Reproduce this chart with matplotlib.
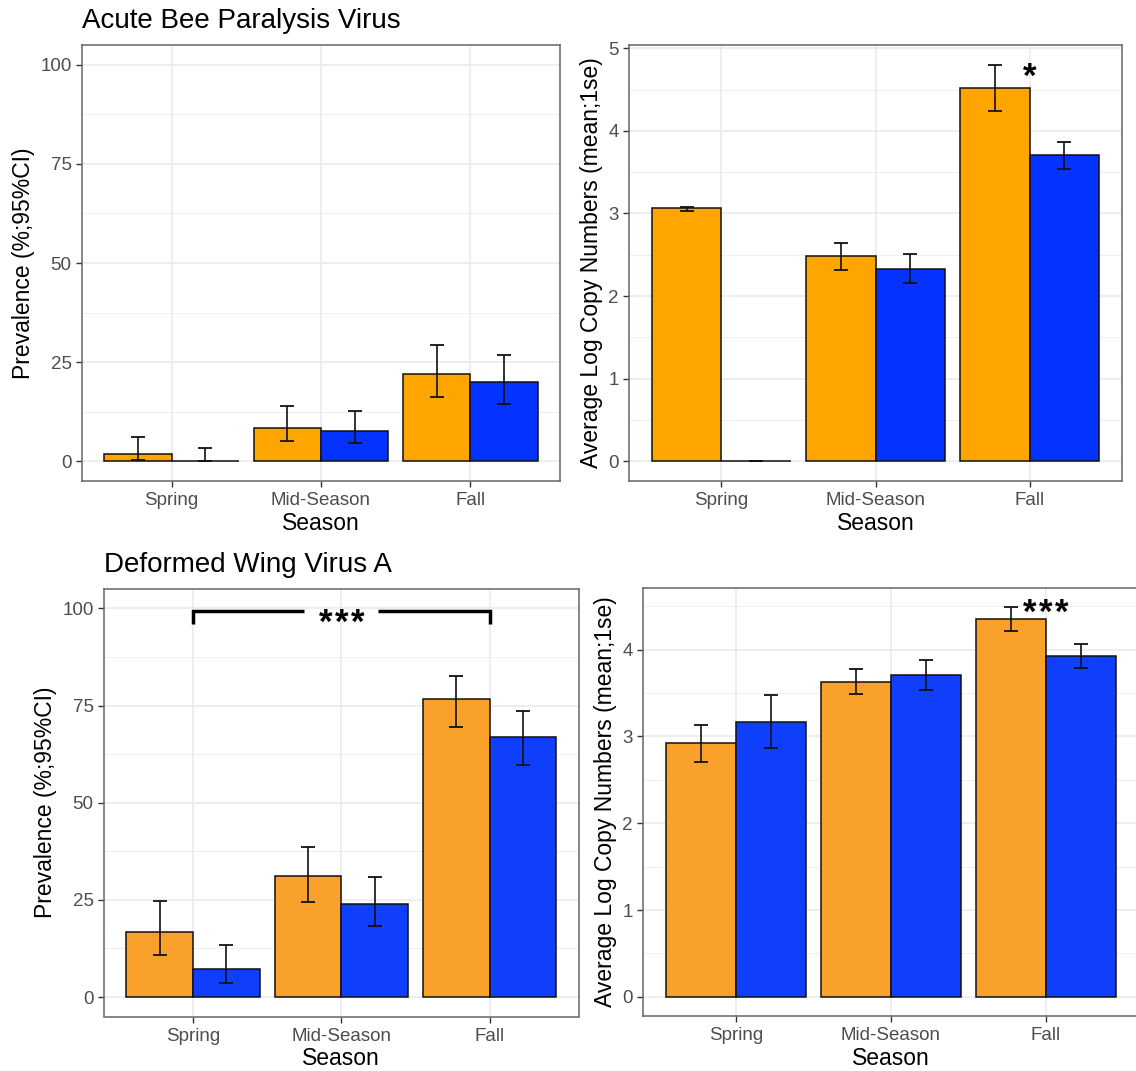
import numpy as np
import matplotlib
matplotlib.use("Agg")
import matplotlib.pyplot as plt

plt.rcParams['font.family'] = ['Liberation Sans', 'DejaVu Sans']

seasons = ['Spring', 'Mid-Season', 'Fall']

# Acute Bee Paralysis Virus - prevalence (%, 95% CI)
abpv_prev_1 = [1.8, 8.4, 22.0]
abpv_prev_1_lo = [0.4, 5.0, 16.2]
abpv_prev_1_hi = [6.2, 13.8, 29.2]
abpv_prev_2 = [0.0, 7.7, 19.9]
abpv_prev_2_lo = [0.0, 4.5, 14.5]
abpv_prev_2_hi = [3.2, 12.7, 26.7]

# Acute Bee Paralysis Virus - log copy numbers (mean, 1 se)
abpv_copy_1 = [3.06, 2.48, 4.52]
abpv_copy_1_lo = [3.03, 2.32, 4.24]
abpv_copy_1_hi = [3.08, 2.64, 4.80]
abpv_copy_2 = [0.0, 2.33, 3.71]
abpv_copy_2_lo = [0.0, 2.16, 3.54]
abpv_copy_2_hi = [0.0, 2.51, 3.87]

# Deformed Wing Virus A - prevalence
dwv_prev_1 = [16.7, 31.1, 76.7]
dwv_prev_1_lo = [10.9, 24.5, 69.4]
dwv_prev_1_hi = [24.6, 38.6, 82.6]
dwv_prev_2 = [7.1, 24.0, 66.9]
dwv_prev_2_lo = [3.7, 18.2, 59.6]
dwv_prev_2_hi = [13.4, 31.0, 73.5]

# Deformed Wing Virus A - log copy numbers
dwv_copy_1 = [2.92, 3.63, 4.35]
dwv_copy_1_lo = [2.71, 3.49, 4.22]
dwv_copy_1_hi = [3.13, 3.78, 4.49]
dwv_copy_2 = [3.17, 3.71, 3.93]
dwv_copy_2_lo = [2.87, 3.54, 3.79]
dwv_copy_2_hi = [3.48, 3.88, 4.06]

W, H = 1136, 1071
fig = plt.figure(figsize=(W / 100, H / 100), dpi=100)
fig.patch.set_facecolor('white')


def make_ax(left, right, top, bottom):
    return fig.add_axes([left / W, 1 - bottom / H, (right - left) / W, (bottom - top) / H])


def draw_panel(ax, g1, g2, colors, ylim, yticks, ylabel):
    x = np.arange(len(seasons))
    ax.set_xlim(-0.6, 2.6)
    ax.set_ylim(*ylim)
    ax.set_axisbelow(True)
    minor = [(a + b) / 2 for a, b in zip(yticks[:-1], yticks[1:])]
    minor += [yticks[-1] + (yticks[1] - yticks[0]) / 2]
    minor = [m for m in minor if ylim[0] < m < ylim[1]]
    for m in minor:
        ax.axhline(m, color='#EFEFEF', lw=0.7, zorder=0)
    for t in yticks:
        ax.axhline(t, color='#EBEBEB', lw=1.2, zorder=0)
    for xi in x:
        ax.axvline(xi, color='#EBEBEB', lw=1.2, zorder=0)

    for (vals, lo, hi), off, c in zip([g1, g2], [-0.225, 0.225], colors):
        vals = np.array(vals)
        ax.bar(x + off, vals, width=0.45, color=c, edgecolor='#111111', linewidth=1.1, zorder=2)
        yerr = [vals - np.array(lo), np.array(hi) - vals]
        ax.errorbar(x + off, vals, yerr=yerr, fmt='none', ecolor='#111111',
                    elinewidth=1.2, capsize=5.3, capthick=1.3, zorder=3)

    ax.set_xticks(x)
    ax.set_xticklabels(seasons)
    ax.set_yticks(yticks)
    ax.set_yticklabels([f'{t:g}' for t in yticks])
    ax.tick_params(axis='both', length=4, width=1.0, color='#333333',
                   labelcolor='#4D4D4D', labelsize=13.5)
    ax.tick_params(axis='x', pad=4)
    ax.tick_params(axis='y', pad=3.5)
    for s in ax.spines.values():
        s.set_color('#666666')
        s.set_linewidth(1.1)
        s.set_zorder(4)
    ax.set_xlabel('Season', fontsize=16.5, labelpad=2)
    ax.set_ylabel(ylabel, fontsize=16.5, labelpad=4)


def stars(ax, n, x, y):
    # n bold asterisks centred on (x, y), spaced by a fixed step in points
    step = 11.5
    for i in range(n):
        dx = (i - (n - 1) / 2) * step
        ax.annotate('*', xy=(x, y), xytext=(dx, -14.5), textcoords='offset points',
                    ha='center', va='baseline', fontsize=25, fontweight='bold', zorder=5)


def title(ax, text):
    ax.annotate(text, xy=(0, 1), xycoords='axes fraction', xytext=(0, 12.2),
                textcoords='offset points', ha='left', va='baseline', fontsize=20)


top_cols = ['#FFA500', '#0433FF']
bot_cols = ['#F9A12B', '#103FFB']
prev_label = 'Prevalence (%;95%CI)'
copy_label = 'Average Log Copy Numbers (mean;1se)'

ax1 = make_ax(82, 560, 45, 481)
draw_panel(ax1, (abpv_prev_1, abpv_prev_1_lo, abpv_prev_1_hi),
           (abpv_prev_2, abpv_prev_2_lo, abpv_prev_2_hi),
           top_cols, (-5, 105), [0, 25, 50, 75, 100], prev_label)
title(ax1, 'Acute Bee Paralysis Virus')

ax2 = make_ax(629, 1122, 45, 481)
draw_panel(ax2, (abpv_copy_1, abpv_copy_1_lo, abpv_copy_1_hi),
           (abpv_copy_2, abpv_copy_2_lo, abpv_copy_2_hi),
           top_cols, (-0.24, 5.04), [0, 1, 2, 3, 4, 5], copy_label)
stars(ax2, 1, 2, 4.78)

ax3 = make_ax(104, 578.5, 589, 1016.5)
draw_panel(ax3, (dwv_prev_1, dwv_prev_1_lo, dwv_prev_1_hi),
           (dwv_prev_2, dwv_prev_2_lo, dwv_prev_2_hi),
           bot_cols, (-5, 105), [0, 25, 50, 75, 100], prev_label)
title(ax3, 'Deformed Wing Virus A')
# Spring vs Fall bracket
ax3.plot([0, 0, 0.75], [96.1, 99.3, 99.3], color='black', lw=2.5,
         solid_joinstyle='miter', solid_capstyle='butt', zorder=5)
ax3.plot([1.25, 2, 2], [99.3, 99.3, 96.1], color='black', lw=2.5,
         solid_joinstyle='miter', solid_capstyle='butt', zorder=5)
stars(ax3, 3, 1, 99.0)

ax4 = make_ax(643, 1139, 588, 1016)
draw_panel(ax4, (dwv_copy_1, dwv_copy_1_lo, dwv_copy_1_hi),
           (dwv_copy_2, dwv_copy_2_lo, dwv_copy_2_hi),
           bot_cols, (-0.22, 4.71), [0, 1, 2, 3, 4], copy_label)
stars(ax4, 3, 2, 4.54)

fig.savefig('out.png', dpi=100)
